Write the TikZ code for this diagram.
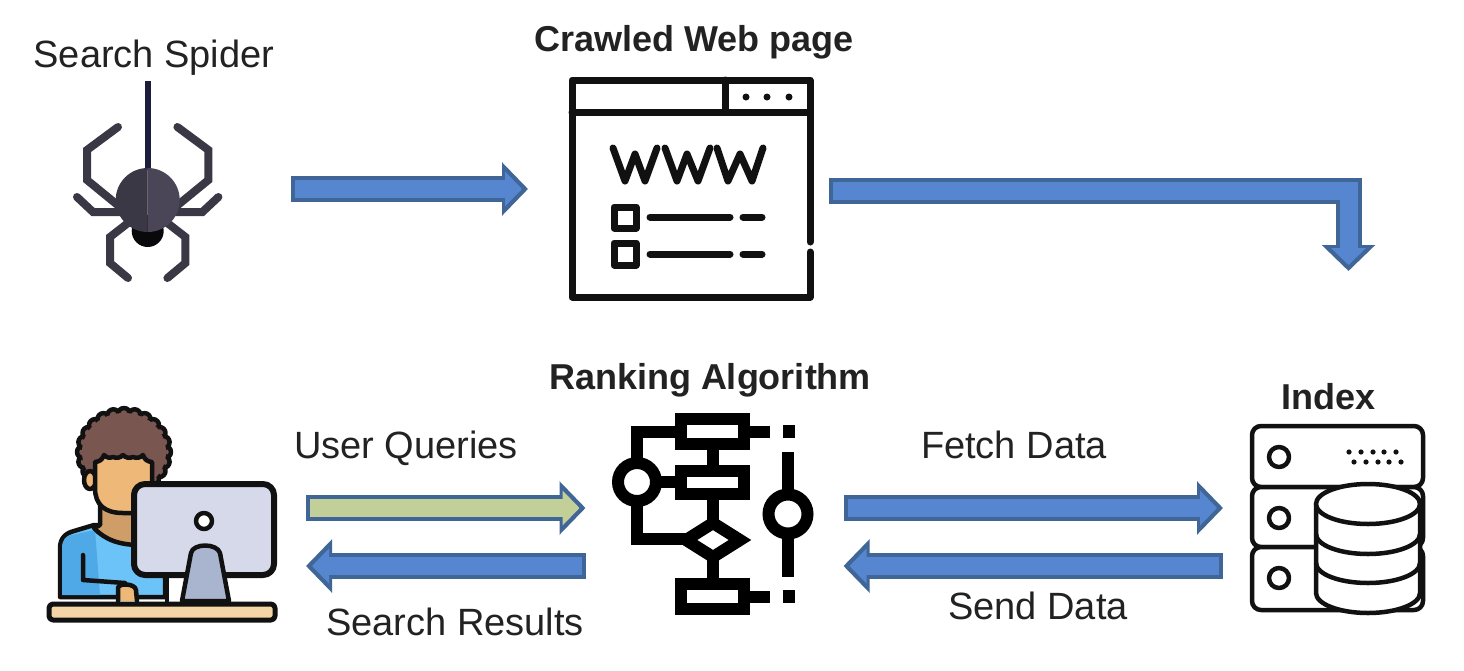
\documentclass[tikz,border=0pt]{standalone}
\usepackage{fontspec}
\setmainfont{Liberation Sans}
\usetikzlibrary{arrows.meta,calc}
\definecolor{txt}{HTML}{222222}
\definecolor{edgeblue}{HTML}{3F6697}
\definecolor{fillblue}{HTML}{5686D0}
\definecolor{fillgreen}{HTML}{C3CF98}
\definecolor{spA}{HTML}{3B3845}
\definecolor{spB}{HTML}{4A4657}
\definecolor{thread}{HTML}{1C1C3C}
\definecolor{ink}{HTML}{111111}
\definecolor{HairC}{HTML}{7A5650}
\definecolor{FaceC}{HTML}{EDB878}
\definecolor{NeckC}{HTML}{CF9E68}
\definecolor{ShirtA}{HTML}{4FA9E6}
\definecolor{ShirtB}{HTML}{6CC3F7}
\definecolor{ScreenC}{HTML}{D5D9EA}
\definecolor{StandC}{HTML}{A9B4CE}
\definecolor{TableC}{HTML}{F5D5A5}
\tikzset{
  lab/.style={font=\fontsize{38}{42}\selectfont,text=txt,inner sep=0pt},
  blab/.style={font=\fontsize{36}{40}\selectfont\bfseries,text=txt,inner sep=0pt},
  zone/.style={inner sep=0pt,outer sep=0pt,draw=none},
  blockarrow/.style={
    preaction={draw=edgeblue,line width=26pt,shorten >=0pt,shorten <=0pt,
      -{Triangle[length=26pt,width=52pt]}},
    draw=#1,line width=18pt,shorten >=6pt,shorten <=4pt,
    -{Triangle[length=17pt,width=34pt]}},
  blockarrow/.default=fillblue,
  spleg/.style={draw=spA,line width=8pt,line cap=round,line join=miter},
  pageline/.style={draw=ink,line width=7pt,line cap=round,line join=round},
  usr/.style={draw=ink,line width=4.5pt,line join=round,line cap=round},
  alg/.style={draw=black,line width=12pt,line join=miter},
  srv/.style={draw=ink,line width=4.5pt,line join=round},
}
\begin{document}
\begin{tikzpicture}[x=1pt,y=-1pt]
\useasboundingbox[fill=white] (0,0) rectangle (1464,670);

% invisible zones the connectors run between
\path (180.5,189) node[zone,minimum width=221pt,minimum height=140pt] (spider) {};
\path (678.5,189) node[zone,minimum width=301pt,minimum height=220pt] (page) {};
\path (175.5,537) node[zone,minimum width=261pt,minimum height=210pt] (user) {};
\path (714.5,537) node[zone,minimum width=258pt,minimum height=210pt] (algo) {};
\path (1324,537) node[zone,minimum width=202pt,minimum height=210pt] (index) {};
\coordinate (drop) at (1348.5,271);

% labels
\node[lab] (lspider) at (154,58) {Search Spider};
\node[blab] (lpage) at (694,42) {Crawled Web page};
\node[blab] (lalgo) at (710,380) {Ranking Algorithm};
\node[blab] (lindex) at (1328,397) {Index};
\node[lab] (lquery) at (406,448) {User Queries};
\node[lab] (lresult) at (455,622) {Search Results};
\node[lab] (lfetch) at (1014,445) {Fetch Data};
\node[lab] (lsend) at (1038,606) {Send Data};

% connectors
\draw[blockarrow] (spider.east) -- (page.west);
\draw[blockarrow] ([yshift=-2pt]page.east) -| (drop);
\draw[blockarrow=fillgreen] ([yshift=29pt]user.east) -- ([yshift=29pt]algo.west);
\draw[blockarrow] ([yshift=-29pt]algo.west) -- ([yshift=-29pt]user.east);
\draw[blockarrow] ([yshift=29pt]algo.east) -- ([yshift=29pt]index.west);
\draw[blockarrow] ([yshift=-29pt]index.west) -- ([yshift=-29pt]algo.east);

% spider
\draw[draw=thread,line width=6pt] (147.7,81) -- (147.7,170);
\draw[spleg] (118,127) -- (87,150) -- (87,180) -- (120,207);
\draw[spleg] (177.4,127) -- (208.4,150) -- (208.4,180) -- (175.4,207);
\draw[spleg] (77,197) -- (93,212) -- (123,212);
\draw[spleg] (218.4,197) -- (202.4,212) -- (172.4,212);
\draw[spleg] (128,223) -- (110,237) -- (110,263) -- (128,278);
\draw[spleg] (167.4,223) -- (185.4,237) -- (185.4,263) -- (167.4,278);
\fill[black!85!spA] (147.7,231) circle (16);
\fill[spB] (147.7,168) arc (-90:90:32) -- cycle;
\fill[spA] (147.7,168) arc (270:90:32) -- cycle;

% web page
\draw[pageline] (810,252) -- (810,297) -- (572,297) -- (572,80) -- (810,80) -- (810,242);
\draw[pageline] (572,112) -- (810,112);
\draw[pageline] (725,80) -- (725,112);
\foreach \px in {746,767,789} \fill[ink] (\px,97) circle (3.5);
\draw[pageline] (613,148) -- (625,181) -- (635,154) -- (645,181) -- (657,148);
\draw[pageline] (665,148) -- (677,181) -- (687,154) -- (698,181) -- (710,148);
\draw[pageline] (717,148) -- (728,181) -- (740,154) -- (752,181) -- (763,148);
\draw[pageline] (614,207) rectangle (636,228);
\draw[pageline] (614,243) rectangle (636,265);
\draw[pageline] (650,217) -- (730,217);
\draw[pageline] (743,217) -- (762,217);
\draw[pageline] (650,254) -- (730,254);
\draw[pageline] (743,254) -- (762,254);

% user
\foreach \a in {0,15,...,345}
  \filldraw[usr,fill=HairC] ($(124,452)+(\a:41 and 38)$) circle (6);
\fill[HairC] (124,452) ellipse (42 and 39);
\filldraw[usr,fill=FaceC] (90,480) ellipse (6 and 9);
% body
\filldraw[usr,fill=ShirtB] (60,597) -- (60,548) .. controls (60,538) and (66,533) .. (74,531)
  -- (94,525) -- (165,525) -- (165,597) -- cycle;
\fill[ShirtA] (62,595) -- (62,548) .. controls (62,540) and (66,535) .. (72,535)
  -- (95,530) -- (100,595) -- cycle;
% neck
\filldraw[usr,fill=NeckC] (100,505) -- (100,525) -- (94,528) .. controls (105,540) and (120,545) .. (140,545)
  -- (150,505) -- cycle;
% face
\filldraw[usr,fill=FaceC] (95,462) to[bend right=35] (104,455) to[bend right=35] (113,457)
  to[bend right=35] (123,455) to[bend right=35] (133,457) to[bend right=35] (143,455)
  to[bend right=35] (152,462) -- (152,513) -- (123,513)
  .. controls (105,513) and (95,505) .. (95,488) -- cycle;
% arm, hand
\draw[usr] (83,555) -- (83,580) -- (125,583);
\filldraw[usr,fill=FaceC] (118,601) -- (118,588) .. controls (118,583) and (135,583) .. (136,590) -- (137,601);
% monitor
\draw[usr] (167,575) -- (167,601);
\filldraw[usr,line width=6pt,fill=ScreenC,rounded corners=11pt] (134,484) rectangle (274,575);
\filldraw[usr,fill=white] (204,521) circle (8);
\filldraw[usr,fill=StandC] (182,601) -- (191,553) .. controls (193,543) and (217,543) .. (220,553) -- (229,601) -- cycle;
% table
\filldraw[usr,line width=5pt,fill=TableC,rounded corners=4pt] (49,604) rectangle (275,620);

% algorithm
\draw[alg] (713,444) -- (713,471);
\draw[alg] (713,494) -- (713,520);
\draw[alg] (713,558) -- (713,584);
\draw[alg] (681,431.5) -- (637,431.5) -- (637,470);
\draw[alg] (650,482) -- (681,482);
\draw[alg] (637,495) -- (637,539) -- (690,539);
\draw[alg] (744,431.5) -- (770,431.5);
\draw[alg] (744,596.5) -- (770,596.5);
\draw[alg] (681,419) rectangle (744,444);
\draw[alg] (681,471) rectangle (744,494);
\draw[alg] (681,584) rectangle (744,609);
\draw[alg,fill=white] (686,540) -- (713,523) -- (740,540) -- (713,557) -- cycle;
\draw[alg,fill=white] (637,482) circle (19);
\fill (783,425) rectangle (795,438);
\fill (783,590) rectangle (795,603);
\draw[alg] (788,452) -- (788,577);
\draw[alg,fill=white] (788,514) circle (19.5);

% index
\filldraw[srv,fill=white,rounded corners=9pt] (1252,487) rectangle (1423,426);
\filldraw[srv,fill=white,rounded corners=9pt] (1252,547) rectangle (1423,487);
\filldraw[srv,fill=white,rounded corners=9pt] (1252,610) rectangle (1423,547);
\foreach \cy in {457,518,578} \draw[srv] (1279,\cy) circle (10);
\foreach \dx in {1349,1361,1373,1384,1396} \fill[ink] (\dx,452) circle (2.6);
\foreach \dx in {1354,1366,1378,1389,1401} \fill[ink] (\dx,462) circle (2.6);
\filldraw[srv,fill=white] (1316,504) -- (1316,593) arc (180:0:52 and 20) -- (1420,504) -- cycle;
\filldraw[srv,fill=white] (1368,504) ellipse (52 and 20);
\draw[srv] (1316,534) arc (180:0:52 and 20);
\draw[srv] (1316,563) arc (180:0:52 and 20);
\end{tikzpicture}
\end{document}
